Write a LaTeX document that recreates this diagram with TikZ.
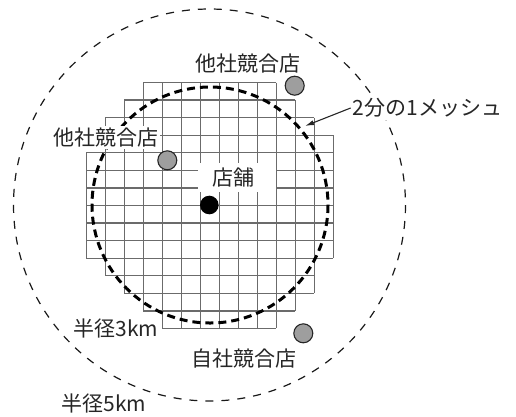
\documentclass[tikz,border=0pt]{standalone}
\usepackage{fontspec}
\newfontfamily\jp{Noto Sans CJK JP}
\usetikzlibrary{arrows.meta}
\tikzset{
  gridcell/.style={draw=black!58, line width=1.3pt},
  circ3/.style={draw=black, line width=3pt, dash pattern=on 8pt off 5pt},
  circ5/.style={draw=black!90, line width=1.2pt, dash pattern=on 8pt off 8pt},
  lbl/.style={font=\jp\fontsize{21}{23}\selectfont, inner sep=2pt, text=black!85},
  wlbl/.style={lbl, fill=white},
  rival/.style={circle, draw=black!85, fill=black!38, line width=1.1pt, minimum size=19pt, inner sep=0pt},
  storedot/.style={circle, fill=black, minimum size=18.6pt, inner sep=0pt},
  pointer/.style={draw=black!85, line width=1.1pt, -{Latex[length=9pt,width=5pt]}}
}
\begin{document}
\begin{tikzpicture}[x=1pt,y=-1pt]
\useasboundingbox (0,0) rectangle (516,416);
% mesh grid: per row, horizontal edges and vertical cell walls
\foreach \r/\lo/\hi in {0/3/9,1/2/10,2/1/11,3/1/12,4/0/12,5/0/12,6/0/12,7/0/12,8/0/12,9/0/12,10/1/11,11/2/11,12/3/10,13/4/9}{
  \draw[gridcell] ({86.3+\lo*19},{82.5+\r*17.57}) -- ({86.3+(\hi+1)*19},{82.5+\r*17.57});
  \draw[gridcell] ({86.3+\lo*19},{82.5+(\r+1)*17.57}) -- ({86.3+(\hi+1)*19},{82.5+(\r+1)*17.57});
  \pgfmathtruncatemacro{\hiplus}{\hi+1}
  \foreach \c in {\lo,...,\hiplus}{
    \draw[gridcell] ({86.3+\c*19},{82.5+\r*17.57}) -- ({86.3+\c*19},{82.5+(\r+1)*17.57});
  }
}
% circles
\draw[circ3] (210,205) circle[radius=118];
\draw[circ5] (209.5,205) circle[radius=196];
% labels
\node[lbl] (rivalTop) at (248.3,64) {他社競合店};
\node[wlbl] (rivalLeft) at (105.5,137.5) {他社競合店};
\node[wlbl, minimum width=78pt, minimum height=29pt, inner sep=0pt] (store) at (237,177.5) {店舗\kern8pt};
\node[wlbl] (mesh) at (427.5,108) {2分の1メッシュ};
\node[lbl] (r3) at (116,328.5) {半径3km};
\node[lbl] (own) at (243.7,358.5) {自社競合店};
\node[lbl] (r5) at (104,403) {半径5km};
% markers
\node[rival] (g1) at (294.7,85.7) {};
\node[rival] (g2) at (167.3,160.3) {};
\node[rival] (g3) at (303.3,333.3) {};
\node[storedot] (s) at (209.3,205) {};
% arrow
\coordinate (meshpt) at (305,126);
\draw[pointer] (mesh.west) -- (meshpt);
\end{tikzpicture}
\end{document}
